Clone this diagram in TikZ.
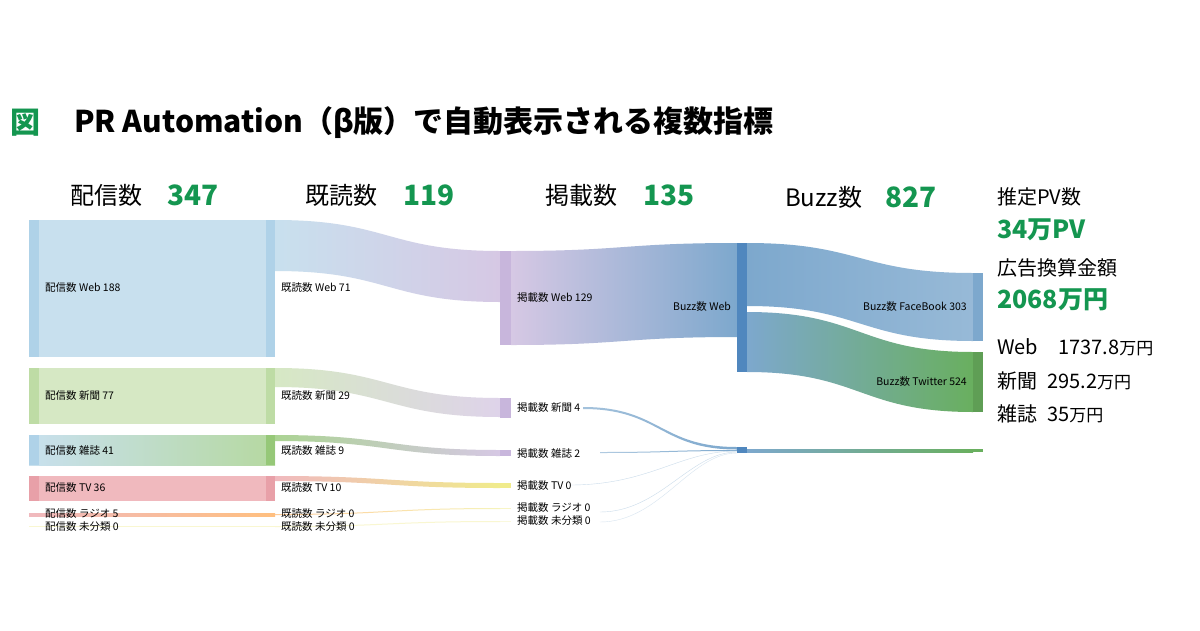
\documentclass[tikz,border=0pt]{standalone}
\usepackage{fontspec}
\setmainfont{Noto Sans CJK JP}
\usetikzlibrary{calc}
\definecolor{grn}{RGB}{20,150,80}
\definecolor{cweb}{RGB}{200,224,238}
\definecolor{cwebd}{RGB}{175,210,232}
\definecolor{cnp}{RGB}{214,232,196}
\definecolor{cnpd}{RGB}{190,220,165}
\definecolor{cmg}{RGB}{150,200,120}
\definecolor{ctv}{RGB}{240,185,190}
\definecolor{ctvd}{RGB}{232,160,168}
\definecolor{cpur}{RGB}{214,200,228}
\definecolor{cpurd}{RGB}{200,182,220}
\definecolor{cbl}{RGB}{125,168,205}
\definecolor{cbld}{RGB}{80,135,190}
\definecolor{ctw}{RGB}{105,175,95}
\definecolor{cyel}{RGB}{240,235,140}
\newcommand\sflow[8]{%
  \pgfmathsetmacro\xm{(#1+#4)/2}%
  \shade[left color=#7,right color=#8] (#1,#2) .. controls (\xm,#2) and (\xm,#5) .. (#4,#5) -- (#4,#6) .. controls (\xm,#6) and (\xm,#3) .. (#1,#3) -- cycle;}
\tikzset{lab/.style={font=\fontsize{10.5}{11}\selectfont,anchor=west,inner sep=0pt},
  hd/.style={font=\fontsize{24}{25}\selectfont,anchor=west,inner sep=0pt},
  num/.style={font=\fontsize{28}{28}\bfseries\selectfont,text=grn,anchor=west,inner sep=0pt},
  rt/.style={font=\fontsize{20}{21}\selectfont,anchor=west,inner sep=0pt}}
\begin{document}
\begin{tikzpicture}[x=1pt,y=-1pt]
\fill[white] (0,0) rectangle (1200,630);
\useasboundingbox (0,0) rectangle (1200,630);
% title
\node[font=\fontsize{30}{31}\bfseries\selectfont,text=grn,anchor=west,inner sep=0pt] (t0) at (10,123) {図};
\node[font=\fontsize{30}{31}\bfseries\selectfont,anchor=west,inner sep=0pt] (t1) at (74,123) {PR Automation（β版）で自動表示される複数指標};
% headers
\node[hd] (h1) at (70,195) {配信数}; \node[num] (n1) at (167,195) {347};
\node[hd] (h2) at (305,195) {既読数}; \node[num] (n2) at (403,195) {119};
\node[hd] (h3) at (545,195) {掲載数}; \node[num] (n3) at (643,195) {135};
\node[hd] (h4) at (785,197) {Buzz数}; \node[num] (n4) at (885,197) {827};
\node[rt] (r1) at (997,197) {推定PV数};
\node[font=\fontsize{25}{25}\bfseries\selectfont,text=grn,anchor=west,inner sep=0pt] (r2) at (997,230) {34万PV};
\node[rt] (r3) at (997,268) {広告換算金額};
\node[font=\fontsize{25}{25}\bfseries\selectfont,text=grn,anchor=west,inner sep=0pt] (r4) at (997,300) {2068万円};
\node[rt] (r5) at (997,347) {Web\quad 1737.8{\fontsize{17}{17}\selectfont 万円}};
\node[rt] (r6) at (997,381) {新聞\enspace 295.2{\fontsize{17}{17}\selectfont 万円}};
\node[rt] (r7) at (997,414) {雑誌\enspace 35{\fontsize{17}{17}\selectfont 万円}};
% column 1 blocks
\fill[cweb] (29,220) rectangle (275,357);
\fill[cnp] (29,368) rectangle (275,424);
\shade[left color=cweb,right color=cmg!70] (29,435) rectangle (275,465);
\fill[ctv] (29,476) rectangle (275,501);
\shade[left color=ctv,right color=orange!50] (29,513) rectangle (275,516);
\fill[cyel!40] (29,526) rectangle (275,527);
\foreach \y/\b/\c in {220/357/cwebd,368/424/cnpd,476/501/ctvd}{
  \fill[\c] (29,\y) rectangle (39,\b); \fill[\c] (266,\y) rectangle (275,\b);}
\fill[cwebd] (29,435) rectangle (39,465); \fill[cmg] (266,435) rectangle (275,465);
% flows col1->col3
\sflow{275}{220}{271}{500}{251}{302}{cweb}{cpur}
\sflow{275}{368}{387}{500}{398}{417}{cnp}{cpur!80}
\sflow{275}{435}{441}{500}{450}{456}{cmg!80}{cpur}
\sflow{275}{476}{481}{500}{483}{488}{ctv}{cyel}
\sflow{275}{514}{515}{500}{508}{509}{orange!40}{cyel!60}
\sflow{275}{526}{527}{500}{521}{522}{cyel!40}{cyel!40}
% col3 bars
\fill[cpurd] (500,251) rectangle (511,345);
\fill[cpurd] (500,398) rectangle (511,418);
\fill[cpurd] (500,450) rectangle (511,456);
\fill[cyel] (500,483) rectangle (511,488);
\fill[cyel!50] (500,508) rectangle (511,509);
\fill[cyel!30] (500,521) rectangle (511,522);
% flows col3->col4
\sflow{511}{251}{345}{737}{243}{337}{cpur}{cbl}
\sflow{583}{407}{409}{737}{447}{449.5}{cbl!70}{cbl}
\sflow{600}{452}{453}{737}{450}{451}{cbl!60}{cbl}
\draw[cbl!40,thin] (570,485) .. controls (650,485) and (680,451) .. (737,451);
\draw[cbl!40,thin] (600,512) .. controls (660,512) and (690,452) .. (737,452);
\draw[cbl!30,thin] (600,522) .. controls (660,522) and (690,453) .. (737,453);
% col4 bars
\fill[cbld] (737,243) rectangle (747,372);
\fill[cbld] (737,447) rectangle (747,453);
% flows col4->col5
\sflow{747}{243}{306}{973}{273}{341}{cbl}{cbl!80}
\sflow{747}{312}{372}{973}{352}{412}{cbl}{ctw}
\shade[left color=cbl,right color=ctw] (747,449) rectangle (973,452);
\fill[cbl] (973,273) rectangle (983,341);
\fill[ctw!90!black] (973,352) rectangle (983,412);
\fill[ctw] (973,449) rectangle (983,452);
% labels
\node[lab] (a1) at (45,288) {配信数 Web 188};
\node[lab] (a2) at (45,396) {配信数 新聞 77};
\node[lab] (a3) at (45,450) {配信数 雑誌 41};
\node[lab] (a4) at (45,488) {配信数 TV 36};
\node[lab] (a5) at (45,514) {配信数 ラジオ 5};
\node[lab] (a6) at (45,527) {配信数 未分類 0};
\node[lab] (b1) at (281,288) {既読数 Web 71};
\node[lab] (b2) at (281,396) {既読数 新聞 29};
\node[lab] (b3) at (281,450) {既読数 雑誌 9};
\node[lab] (b4) at (281,488) {既読数 TV 10};
\node[lab] (b5) at (281,514) {既読数 ラジオ 0};
\node[lab] (b6) at (281,527) {既読数 未分類 0};
\node[lab] (c1) at (517,298) {掲載数 Web 129};
\node[lab] (c2) at (517,408) {掲載数 新聞 4};
\node[lab] (c3) at (517,453) {掲載数 雑誌 2};
\node[lab] (c4) at (517,486) {掲載数 TV 0};
\node[lab] (c5) at (517,508) {掲載数 ラジオ 0};
\node[lab] (c6) at (517,521) {掲載数 未分類 0};
\node[lab,anchor=east] (d1) at (731,307) {Buzz数 Web};
\node[lab,anchor=east] (e1) at (967,307) {Buzz数 FaceBook 303};
\node[lab,anchor=east] (e2) at (967,382) {Buzz数 Twitter 524};
\end{tikzpicture}
\end{document}
